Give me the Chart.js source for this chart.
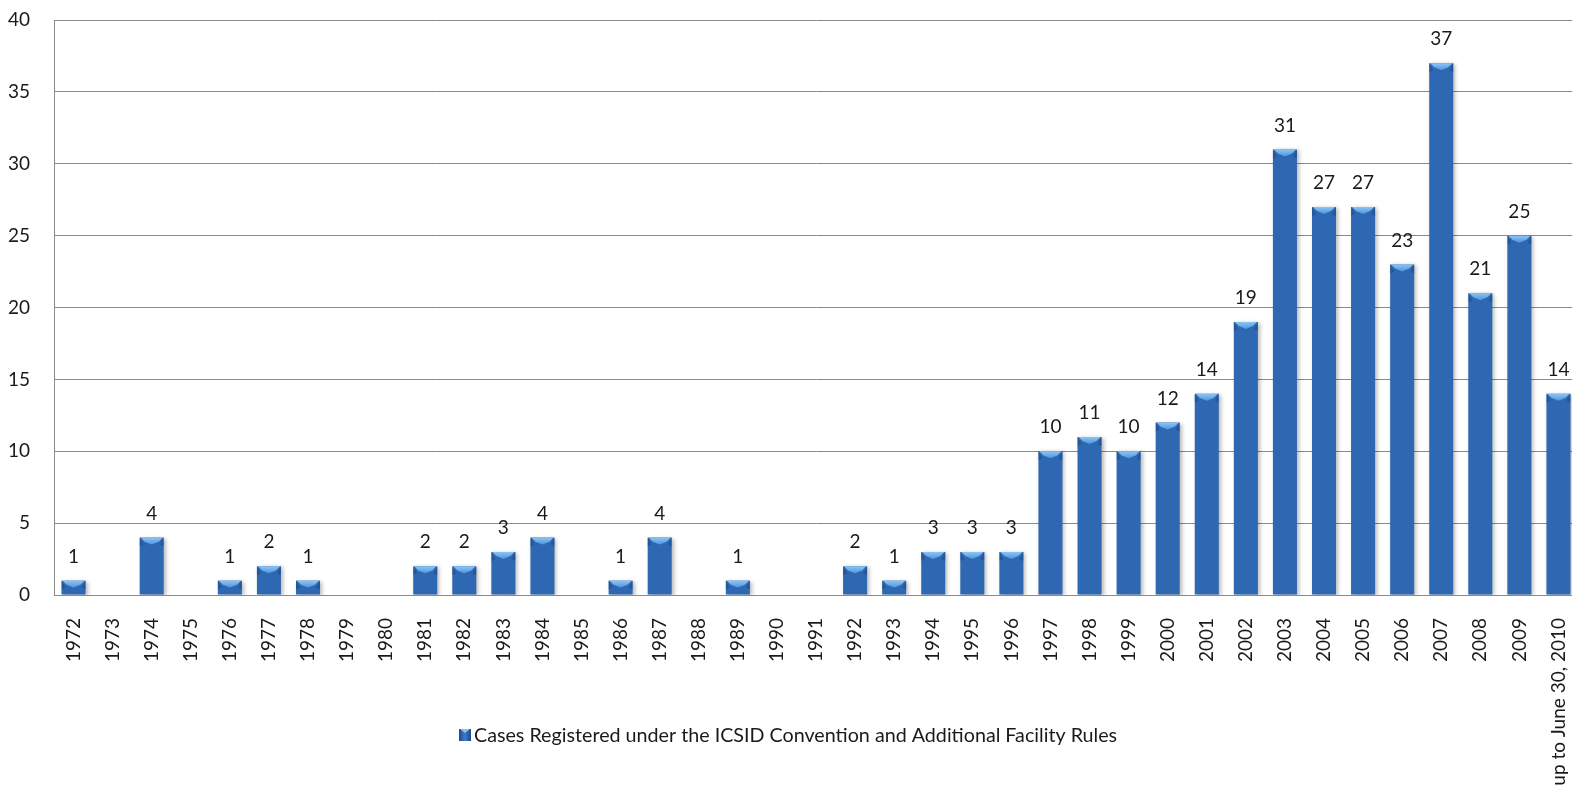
<!DOCTYPE html>
<html>
<head>
<meta charset="utf-8">
<script src="https://cdn.jsdelivr.net/npm/chart.js@4/dist/chart.umd.min.js"></script>
<style>
  html, body { margin: 0; padding: 0; background: #ffffff; overflow: hidden; }
  #wrap { width: 1578px; height: 789px; }
</style>
</head>
<body>
<div id="wrap"><canvas id="c" width="1578" height="789"></canvas></div>
<script>
const categories = ["1972","1973","1974","1975","1976","1977","1978","1979","1980","1981","1982","1983","1984","1985","1986","1987","1988","1989","1990","1991","1992","1993","1994","1995","1996","1997","1998","1999","2000","2001","2002","2003","2004","2005","2006","2007","2008","2009","up to June 30, 2010"];
const casesRegistered = [1,0,4,0,1,2,1,0,0,2,2,3,4,0,1,4,0,1,0,0,2,1,3,3,3,10,11,10,12,14,19,31,27,27,23,37,21,25,14];
const seriesLabel = "Cases Registered under the ICSID Convention and Additional Facility Rules";
const yTicks = { min: 0, max: 40, step: 5 };

const FONT = "Lato";
const FONT_SIZE = 19;
const LEGEND_FONT_SIZE = 19.7;
const GRID = "#8a8a8a";

function barFill(ctx) {
  const chart = ctx.chart;
  const el = chart.getDatasetMeta(ctx.datasetIndex).data[ctx.dataIndex];
  if (!el || !el.width) return "#2f68b2";
  const x0 = el.x - el.width / 2, x1 = el.x + el.width / 2;
  const g = chart.ctx.createLinearGradient(x0, 0, x1, 0);
  g.addColorStop(0, "#1b4681");
  g.addColorStop(0.15, "#2a60a8");
  g.addColorStop(0.5, "#3d7fcf");
  g.addColorStop(0.85, "#2a60a8");
  g.addColorStop(1, "#1a437c");
  return g;
}

const shadowPlugin = {
  id: "barShadow",
  beforeDatasetsDraw(chart) {
    const c = chart.ctx;
    c.save();
    c.shadowColor = "rgba(0,0,0,0.28)";
    c.shadowBlur = 4;
    c.shadowOffsetX = 2;
    c.shadowOffsetY = 1;
  },
  afterDatasetsDraw(chart) {
    chart.ctx.restore();
  }
};

const bevelPlugin = {
  id: "bevelAndLabels",
  afterDatasetsDraw(chart) {
    const c = chart.ctx;
    const meta = chart.getDatasetMeta(0);
    const vals = chart.data.datasets[0].data;
    meta.data.forEach((bar, i) => {
      const v = vals[i];
      if (!v) return;
      const l = bar.x - bar.width / 2, r = bar.x + bar.width / 2, t = bar.y;
      const h = Math.min(7, (bar.base - t) * 0.5);
      c.save();
      c.fillStyle = "rgba(20,55,110,0.35)";
      c.beginPath();
      c.moveTo(l, t); c.lineTo(l + 4, t + h); c.lineTo(l, t + h + 2); c.closePath(); c.fill();
      c.beginPath();
      c.moveTo(r, t); c.lineTo(r - 4, t + h); c.lineTo(r, t + h + 2); c.closePath(); c.fill();
      const g = c.createLinearGradient(0, t, 0, t + h);
      g.addColorStop(0, "#8cc6f7");
      g.addColorStop(1, "#4f95dc");
      c.fillStyle = g;
      c.beginPath();
      c.moveTo(l + 1, t);
      c.lineTo(r - 1, t);
      c.lineTo(r - 5, t + h * 0.6);
      c.lineTo(bar.x, t + h);
      c.lineTo(l + 5, t + h * 0.6);
      c.closePath();
      c.fill();
      c.restore();
      c.save();
      c.font = FONT_SIZE + "px " + FONT;
      c.fillStyle = "#1a1a1a";
      c.textAlign = "center";
      c.textBaseline = "middle";
      c.fillText(String(v), bar.x, t - 24);
      c.restore();
    });
  }
};

const legendPlugin = {
  id: "customLegend",
  afterDraw(chart) {
    const c = chart.ctx;
    const text = chart.data.datasets[0].label;
    c.save();
    c.font = LEGEND_FONT_SIZE + "px " + FONT;
    const tw = c.measureText(text).width;
    const box = 12, gap = 3;
    const total = box + gap + tw;
    const cx = 788, cy = 734.5;
    const x0 = Math.round(cx - total / 2);
    const by = Math.round(cy - box / 2);
    const g = c.createLinearGradient(x0, 0, x0 + box, 0);
    g.addColorStop(0, "#1d4a86");
    g.addColorStop(0.5, "#3b7ccc");
    g.addColorStop(1, "#1c4782");
    c.fillStyle = g;
    c.fillRect(x0, by, box, box);
    c.fillStyle = "#86c2f5";
    c.beginPath();
    c.moveTo(x0 + 1, by);
    c.lineTo(x0 + box - 1, by);
    c.lineTo(x0 + box / 2, by + 4);
    c.closePath();
    c.fill();
    c.fillStyle = "#1a1a1a";
    c.textAlign = "left";
    c.textBaseline = "middle";
    c.fillText(text, x0 + box + gap, cy + 1);
    c.restore();
  }
};

new Chart(document.getElementById("c"), {
  type: "bar",
  data: {
    labels: categories,
    datasets: [{
      label: seriesLabel,
      data: casesRegistered,
      backgroundColor: barFill,
      borderWidth: 0,
      barPercentage: 0.615,
      categoryPercentage: 1.0
    }]
  },
  options: {
    responsive: false,
    animation: false,
    devicePixelRatio: 1,
    layout: { padding: { top: 20, right: 0, bottom: 0, left: 0 } },
    plugins: {
      legend: { display: false },
      tooltip: { enabled: false },
      title: { display: false }
    },
    scales: {
      x: {
        offset: true,
        grid: { display: false, drawTicks: false },
        border: { display: true, color: GRID, width: 1 },
        ticks: {
          autoSkip: false,
          minRotation: 90,
          maxRotation: 90,
          padding: 23,
          color: "#1a1a1a",
          font: { family: FONT, size: FONT_SIZE }
        },
        afterFit(scale) {
          scale.height = 194;
          scale.paddingLeft = 0;
          scale.paddingRight = 0;
        }
      },
      y: {
        min: yTicks.min,
        max: yTicks.max,
        grid: { color: GRID, lineWidth: 1, drawTicks: false },
        border: { display: true, color: GRID, width: 1 },
        ticks: {
          stepSize: yTicks.step,
          padding: 24,
          color: "#1a1a1a",
          font: { family: FONT, size: FONT_SIZE }
        },
        afterFit(scale) {
          scale.width = 54;
          scale.paddingTop = 0;
          scale.paddingBottom = 0;
        }
      }
    }
  },
  plugins: [shadowPlugin, bevelPlugin, legendPlugin]
});
</script>
</body>
</html>
